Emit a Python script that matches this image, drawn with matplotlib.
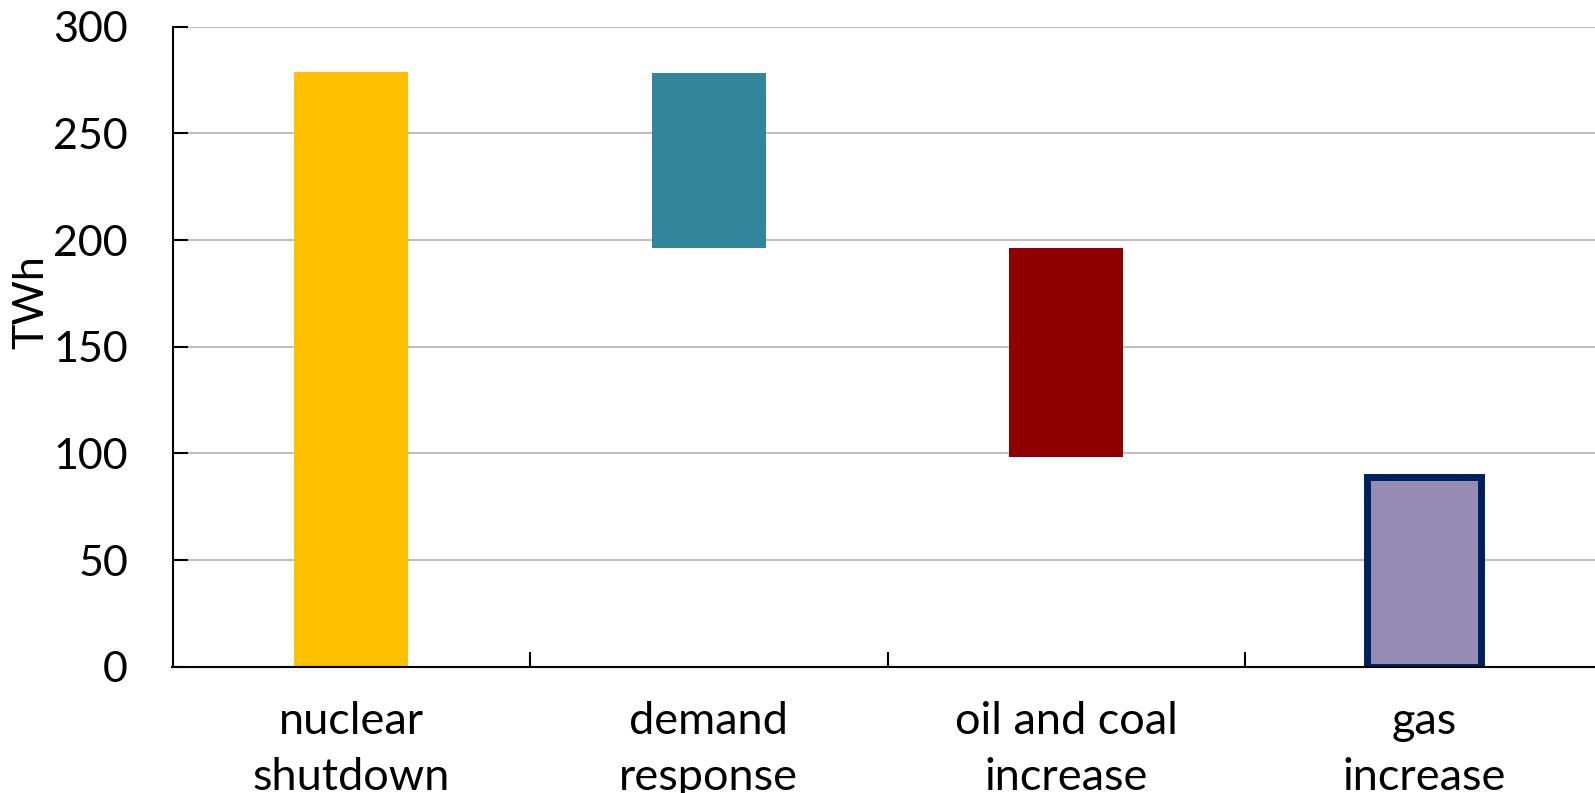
import matplotlib
matplotlib.use("Agg")
import matplotlib.pyplot as plt
import numpy as np

categories = ["nuclear\nshutdown", "demand\nresponse", "oil and coal\nincrease", "gas\nincrease"]
bar_bottoms = [0, 196.5, 98.5, 0]
bar_tops = [279, 278.5, 196.5, 89]
y_ticks = [0, 50, 100, 150, 200, 250, 300]
y_label = "TWh"

fill_colors = ["#FFC000", "#31869B", "#8F0000", "#958CB3"]
edge_colors = ["none", "none", "none", "#002060"]
edge_widths = [0, 0, 0, 5.0]

plt.rcParams['font.family'] = ['Lato', 'DejaVu Sans']

W, H = 1595, 793
fig = plt.figure(figsize=(W / 100, H / 100), dpi=100)
ax = fig.add_axes([172.5 / W, (H - 666.7) / H, 1430 / W, 640 / H])

x = np.arange(len(categories))
heights = [t - b for t, b in zip(bar_tops, bar_bottoms)]
for i in range(len(categories)):
    ax.bar(x[i], heights[i], bottom=bar_bottoms[i], width=0.32,
           color=fill_colors[i], edgecolor=edge_colors[i],
           linewidth=edge_widths[i], zorder=3)

ax.set_xlim(-0.5, 3.5)
ax.set_ylim(0, 300)
ax.set_yticks(y_ticks)
ax.yaxis.grid(True, color="#BFBFBF", linewidth=1.5, zorder=0)
ax.set_axisbelow(True)

for s in ["top", "right"]:
    ax.spines[s].set_visible(False)
for s in ["left", "bottom"]:
    ax.spines[s].set_color("black")
    ax.spines[s].set_linewidth(1.5)
ax.spines["bottom"].set_zorder(5)

ax.tick_params(axis="y", direction="in", length=10.8, width=1.5, pad=32,
               labelsize=31, colors="black")
ax.set_xticks(x)
ax.set_xticklabels(categories, fontsize=32.5, linespacing=1.45)
ax.tick_params(axis="x", which="major", length=0, pad=25)
ax.set_xticks([0.5, 1.5, 2.5], minor=True)
ax.tick_params(axis="x", which="minor", direction="in", length=10.8, width=1.5)

fig.text(31 / W, 1 - 302 / H, y_label, rotation=90, fontsize=31,
         ha="center", va="center")

fig.savefig("out.png", dpi=100)
